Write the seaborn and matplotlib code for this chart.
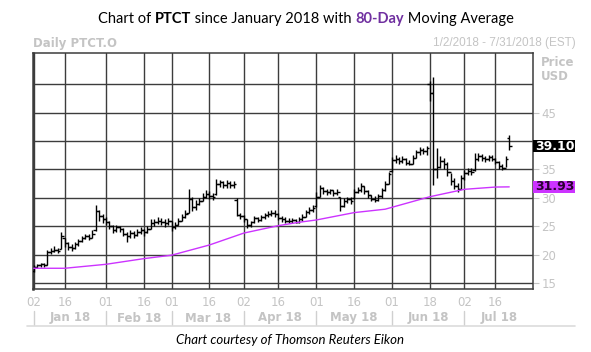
import numpy as np
import pandas as pd
import matplotlib
matplotlib.use("Agg")
import matplotlib.pyplot as plt
import seaborn as sns
from matplotlib.transforms import blended_transform_factory
from matplotlib.patches import Rectangle
from matplotlib.lines import Line2D

# ---------------- data ----------------
holidays = ["2018-01-15", "2018-02-19", "2018-03-30", "2018-05-28", "2018-07-04"]
session_days = pd.bdate_range("2018-01-02", "2018-07-31").difference(pd.to_datetime(holidays))

opens = [17.2, 17.8, 18.1, 18.3, 18.2, 20.4, 20.6, 20.9, 21.0, 23.0,
         22.0, 21.4, 21.2, 21.8, 22.4, 22.9, 23.3, 23.0, 24.3, 27.6,
         26.8, 26.2, 25.8, 25.0, 24.3, 24.8, 24.5, 23.6, 23.2, 23.8,
         23.5, 24.0, 24.3, 23.9, 24.6, 25.6, 25.7, 26.0, 25.7, 25.5,
         25.9, 24.8, 25.3, 26.0, 26.6, 27.4, 29.8, 28.4, 28.9, 29.5,
         30.2, 30.7, 30.4, 30.6, 32.5, 32.8, 32.3, 32.6, 32.2, 29.7,
         27.0, 26.8, 26.2, 25.2, 25.8, 26.4, 26.1, 26.6, 26.9, 27.1,
         27.4, 27.2, 26.5, 26.2, 26.0, 25.9, 26.1, 25.8, 26.3, 26.7,
         27.5, 27.9, 28.5, 30.2, 31.8, 31.2, 31.0, 31.3, 30.8, 30.1,
         28.5, 29.4, 29.8, 29.9, 31.0, 31.4, 32.1, 31.2, 30.5, 29.8,
         29.6, 30.3, 31.3, 32.5, 34.8, 36.6, 36.9, 36.5, 36.8, 36.2,
         36.0, 37.1, 38.0, 38.4, 38.2, 50.0, 48.5, 35.0, 35.5, 36.5,
         36.0, 34.5, 33.0, 32.0, 31.6, 33.5, 34.3, 34.8, 34.9, 36.8,
         37.3, 37.1, 36.8, 37.2, 36.9, 36.3, 35.6, 35.2, 40.5]
highs = [18.2, 18.4, 18.5, 18.5, 20.8, 21.1, 21.5, 21.2, 24.0, 23.0,
         22.3, 21.8, 22.2, 22.8, 23.3, 23.7, 23.6, 24.3, 28.8, 27.8,
         27.2, 26.7, 25.9, 25.2, 25.3, 25.1, 24.7, 24.0, 24.3, 24.2,
         24.5, 24.8, 24.6, 25.0, 26.2, 26.3, 26.6, 26.4, 26.2, 26.5,
         26.0, 25.7, 26.4, 27.2, 27.8, 31.5, 30.1, 29.6, 30.0, 30.8,
         31.4, 31.2, 30.9, 33.3, 33.2, 33.0, 33.1, 32.9, 32.9, 29.9,
         27.4, 27.0, 26.3, 26.0, 26.8, 26.7, 27.0, 27.3, 27.6, 27.9,
         27.8, 27.4, 26.8, 26.6, 26.4, 26.5, 26.3, 26.7, 27.2, 27.9,
         28.4, 28.7, 31.0, 32.3, 31.9, 31.5, 31.6, 31.4, 31.5, 30.2,
         29.9, 30.2, 30.1, 31.5, 31.9, 32.7, 32.0, 31.3, 30.5, 30.3,
         30.7, 31.8, 33.0, 34.6, 37.2, 37.5, 37.2, 37.3, 37.0, 36.6,
         37.5, 38.4, 38.9, 38.7, 39.2, 50.6, 51.2, 38.8, 37.3, 37.0,
         36.3, 34.4, 33.5, 32.6, 34.0, 34.9, 35.3, 35.2, 37.9, 37.9,
         37.7, 37.4, 37.6, 37.5, 37.0, 36.4, 36.0, 37.4, 41.1]
lows = [16.9, 17.7, 17.9, 17.9, 18.1, 20.2, 20.4, 20.3, 21.0, 21.3,
        20.9, 20.7, 21.0, 21.6, 22.2, 22.7, 22.6, 22.9, 24.2, 26.0,
        25.6, 25.2, 24.6, 23.8, 23.9, 24.0, 23.3, 22.3, 23.0, 22.9,
        23.2, 23.6, 23.3, 23.8, 24.5, 25.0, 25.4, 25.2, 24.9, 25.2,
        24.2, 24.5, 25.3, 25.9, 26.5, 27.3, 27.6, 27.9, 28.7, 29.4,
        30.0, 29.8, 29.6, 30.5, 31.9, 31.7, 31.8, 31.7, 31.8, 26.8,
        26.3, 25.8, 24.7, 24.9, 25.6, 25.7, 25.9, 26.3, 26.6, 26.8,
        26.7, 26.1, 25.8, 25.6, 25.5, 25.6, 25.5, 25.6, 26.0, 26.6,
        27.2, 27.5, 28.4, 30.2, 30.6, 30.5, 30.7, 30.4, 30.5, 27.7,
        28.4, 29.1, 29.0, 29.8, 30.8, 31.0, 30.7, 30.0, 29.4, 29.2,
        29.5, 30.0, 31.2, 32.4, 34.6, 36.2, 36.0, 36.2, 35.8, 35.7,
        36.0, 37.0, 37.6, 37.8, 37.5, 47.0, 32.3, 33.5, 35.2, 35.0,
        33.8, 32.2, 31.5, 31.1, 31.5, 33.2, 34.0, 34.1, 34.8, 36.5,
        36.5, 36.3, 36.5, 36.4, 35.9, 35.0, 34.9, 35.5, 38.5]
closes = [17.8, 18.1, 18.3, 18.2, 20.4, 20.6, 20.9, 20.7, 23.2, 22.0,
          21.4, 21.2, 21.8, 22.4, 22.9, 23.3, 23.0, 23.6, 27.6, 26.8,
          26.2, 25.8, 25.0, 24.3, 24.8, 24.5, 23.6, 23.2, 23.8, 23.5,
          24.0, 24.3, 23.9, 24.6, 25.6, 25.7, 26.0, 25.7, 25.5, 25.9,
          24.8, 25.3, 26.0, 26.6, 27.2, 29.8, 28.4, 28.9, 29.5, 30.2,
          30.7, 30.4, 30.1, 32.5, 32.8, 32.3, 32.6, 32.2, 32.4, 27.0,
          26.8, 26.2, 25.2, 25.8, 26.4, 26.1, 26.6, 26.9, 27.1, 27.4,
          27.2, 26.5, 26.2, 26.0, 25.9, 26.1, 25.8, 26.3, 26.7, 27.5,
          27.9, 28.2, 30.2, 31.8, 31.2, 31.0, 31.3, 30.8, 31.0, 28.5,
          29.4, 29.8, 29.5, 31.0, 31.4, 32.1, 31.2, 30.5, 29.8, 29.6,
          30.3, 31.3, 32.5, 34.2, 36.6, 36.9, 36.5, 36.8, 36.2, 36.0,
          37.1, 38.0, 38.4, 38.2, 38.8, 48.5, 35.0, 35.5, 36.5, 36.0,
          34.5, 33.0, 32.0, 31.6, 33.5, 34.3, 34.8, 34.6, 36.8, 37.3,
          37.1, 36.8, 37.2, 36.9, 36.3, 35.6, 35.2, 36.9, 39.10]

ma_day = [0, 9, 21, 32, 40, 51, 61, 71, 77, 82, 93, 102, 115, 125, 134, 138]
ma_val = [17.6, 17.6, 18.3, 19.3, 19.9, 21.7, 23.8, 25.1, 25.7, 26.1, 27.4,
          28.0, 30.2, 31.5, 31.9, 31.93]

tick_dates = ["2018-01-02", "2018-01-16", "2018-02-01", "2018-02-16", "2018-03-01",
              "2018-03-16", "2018-04-02", "2018-04-16", "2018-05-01", "2018-05-16",
              "2018-06-01", "2018-06-18", "2018-07-02", "2018-07-16"]
month_labels = ["Jan 18", "Feb 18", "Mar 18", "Apr 18", "May 18", "Jun 18", "Jul 18"]
y_ticks = [15, 20, 25, 30, 35, 40, 45]
y_tick_labels = ["15", "20", "25", "30", "35", "", "45"]  # "40" sits behind the price box
last_close_label = "39.10"
last_ma_label = "31.93"

# ---------------- figure ----------------
sns.set_theme(style="white")
plt.rcParams["font.family"] = ["DejaVu Sans"]

W, H = 591, 352
fig = plt.figure(figsize=(W / 100, H / 100), dpi=100)
fig.patch.set_facecolor("white")

def fx(px):
    return px / W

def fy(py):
    return 1 - py / H

ax = fig.add_axes([fx(33), fy(289), fx(500), 236 / H])
ax.set_facecolor("white")

GRID = "#3c3c3c"
LIGHT = "#c4c4c4"
MAGENTA = "#cc33ff"

day_index = {d: i for i, d in enumerate(session_days)}
tick_pos = [day_index[pd.Timestamp(d)] for d in tick_dates]

# grid
for t in tick_pos:
    ax.axvline(t, color=GRID, lw=1.0, zorder=1)
for v in range(15, 55, 5):
    ax.axhline(v, color=GRID, lw=1.0, zorder=1)

# OHLC bars
xs = np.arange(len(closes))
ax.vlines(xs, lows, highs, color="black", lw=1.0, zorder=3)
ax.hlines(opens, xs - 0.75, xs, color="black", lw=1.0, zorder=3)
ax.hlines(closes, xs, xs + 0.75, color="black", lw=1.0, zorder=3)

# moving average
sns.lineplot(x=ma_day, y=ma_val, ax=ax, color=MAGENTA, lw=1.0, zorder=4,
             legend=False, estimator=None, sort=False)

ax.set_xlim(-0.2, 144.9)
ax.set_ylim(13.95, 55.5)

for s in ax.spines.values():
    s.set_color(GRID)
    s.set_linewidth(1.1)
    s.set_visible(True)
ax.spines["left"].set_linewidth(1.8)

ax.yaxis.tick_right()
ax.set_yticks(y_ticks)
ax.set_yticklabels(y_tick_labels)
ax.tick_params(axis="y", which="both", right=True, left=False, length=4.5,
               width=0.8, color=LIGHT, labelcolor=LIGHT, labelsize=8.5, pad=1.5)
ax.set_xticks(tick_pos)
ax.set_xticklabels([pd.Timestamp(d).strftime("%d") for d in tick_dates])
ax.tick_params(axis="x", which="both", bottom=False, top=False, length=0,
               labelcolor=LIGHT, labelsize=8.5, pad=5)
ax.set_xlabel("")
ax.set_ylabel("")

# month row
month_starts = [i for i, d in enumerate(session_days) if i == 0 or d.month != session_days[i - 1].month]
bounds = month_starts + [144.9]
trans = blended_transform_factory(ax.transData, fig.transFigure)
for k, lab in enumerate(month_labels):
    xc = (bounds[k] + bounds[k + 1]) / 2
    fig.text(0, 0, lab, transform=trans, ha="center", va="center",
             fontsize=8.5, fontweight="bold", color=LIGHT).set_position((xc, fy(318)))
    fig.add_artist(Line2D([month_starts[k], month_starts[k]], [fy(311), fy(325)],
                          transform=trans, color="#d0d0d0", lw=1.0))
fig.add_artist(Line2D([fx(27), fx(575)], [fy(326), fy(326)], color="#dcdcdc", lw=1.2))

# header texts
fig.text(fx(33), fy(43), "Daily PTCT.O", ha="left", va="center", fontsize=8.5,
         fontweight="bold", color=LIGHT)
fig.text(fx(576), fy(43), "1/2/2018 - 7/31/2018 (EST)", ha="right", va="center",
         fontsize=8.5, color=LIGHT, family="Liberation Sans")
fig.text(fx(541), fy(62), "Price", ha="left", va="center", fontsize=8.5,
         fontweight="bold", color=LIGHT)
fig.text(fx(541), fy(77), "USD", ha="left", va="center", fontsize=8.5,
         fontweight="bold", color=LIGHT)

# value boxes on the right
btrans = blended_transform_factory(fig.transFigure, ax.transData)
box_h = 12 / 5.68
for val, lab, fc, tc in [(closes[-1], last_close_label, "black", "white"),
                         (ma_val[-1], last_ma_label, MAGENTA, "#2a0030")]:
    fig.add_artist(Rectangle((fx(533), val - box_h / 2), fx(42), box_h,
                             transform=btrans, facecolor=fc, edgecolor="none", zorder=5))
    fig.text(fx(535), val, lab, transform=btrans, ha="left", va="center",
             fontsize=9, fontweight="bold", color=tc, zorder=6)

# title with mixed styling
pieces = [("Chart of ", {}), ("PTCT", {"fontweight": "bold"}),
          (" since January 2018 with ", {}),
          ("80-Day", {"fontweight": "bold", "color": "#7030a0"}),
          (" Moving Average", {})]
texts = []
for s, kw in pieces:
    t = fig.text(0, fy(19), s, ha="left", va="center", fontsize=10.5,
                 family="Lato", color=kw.get("color", "black"),
                 fontweight=kw.get("fontweight", "normal"))
    texts.append(t)
fig.canvas.draw()
r = fig.canvas.get_renderer()
widths = [t.get_window_extent(r).width for t in texts]
x0 = 306 - sum(widths) / 2
for t, w in zip(texts, widths):
    t.set_x(x0 / W)
    x0 += w

fig.text(fx(290), fy(340), "Chart courtesy of Thomson Reuters Eikon", ha="center",
         va="center", fontsize=9.5, style="italic", family="Lato", color="black")

fig.savefig("out.png", dpi=100, facecolor="white")
